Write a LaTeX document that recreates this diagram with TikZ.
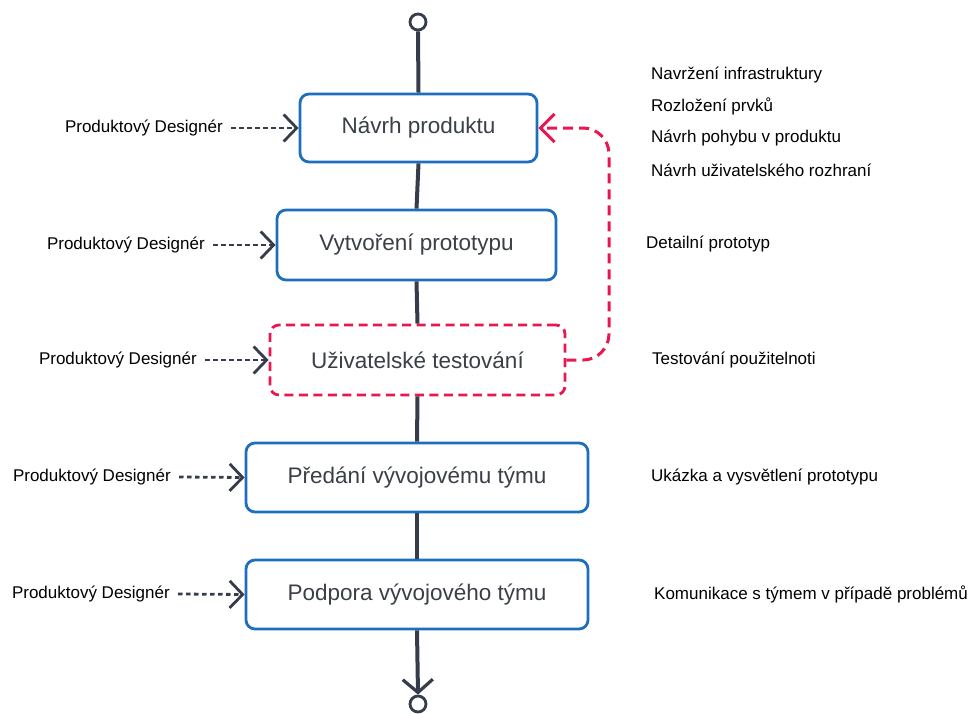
\documentclass[tikz,border=0pt]{standalone}
\usepackage{fontspec}
\setmainfont{Liberation Sans}
\usetikzlibrary{arrows.meta}
\definecolor{spine}{HTML}{353C4A}
\definecolor{stepblue}{HTML}{1E6EBE}
\definecolor{loopred}{HTML}{E8174F}
\definecolor{txt}{HTML}{3A3F48}
\begin{document}
\begin{tikzpicture}[x=1pt,y=-1pt,
  stepbox/.style={draw=stepblue,line width=2.8pt,rounded corners=9pt,fill=white,
    text=txt,font=\fontsize{22.5}{26}\selectfont,inner sep=0pt},
  testbox/.style={stepbox,draw=loopred,dash pattern=on 9pt off 5.5pt},
  role/.style={font=\fontsize{17}{20}\selectfont,text=black,anchor=east,inner sep=0pt},
  note/.style={font=\fontsize{17}{20}\selectfont,text=black,anchor=west,inner sep=0pt},
  chevron/.tip={Straight Barb[length=13pt,width=27pt,line width=2.8pt]},
  feed/.style={line width=2.8pt,draw=spine,dash pattern=on 4.5pt off 3.5pt,-chevron},
  flow/.style={draw=spine,line width=4pt},
  marker/.style={circle,draw=spine,line width=2.8pt,minimum size=16pt,inner sep=0pt,fill=white}
]
\useasboundingbox (0,0) rectangle (974,713);

% steps
\node[stepbox,minimum width=237pt,minimum height=68pt] (s1) at (418.5,128) {Návrh produktu};
\node[stepbox,minimum width=279pt,minimum height=70pt] (s2) at (416.5,245) {Vytvoření prototypu};
\node[testbox,minimum width=295pt,minimum height=70pt] (s3) at (417.5,360) {Uživatelské testování};
\node[stepbox,minimum width=342pt,minimum height=69pt] (s4) at (417,477.5) {Předání vývojovému týmu};
\node[stepbox,minimum width=342pt,minimum height=69pt] (s5) at (417,594.5) {Podpora vývojového týmu};

% start and end markers
\node[marker] (start) at (418,22) {};
\node[marker] (end) at (418,704) {};

% main flow
\draw[flow] (start.south) -- (s1.north);
\draw[flow] (s1.south) -- (s2.north);
\draw[flow] (s2.south) -- (s3.north);
\draw[flow] (s3.south) -- (s4.north);
\draw[flow] (s4.south) -- (s5.north);
\draw[flow,-{Straight Barb[length=13pt,width=30pt,line width=3.2pt]}] (s5.south) -- (end.north);

% roles
\node[role] (r1) at (223,128) {Produktový Designér};
\node[role] (r2) at (205,245) {Produktový Designér};
\node[role] (r3) at (197,360) {Produktový Designér};
\node[role] (r4) at (171,477) {Produktový Designér};
\node[role] (r5) at (170,594) {Produktový Designér};
\draw[feed] ([xshift=8pt]r1.east) -- (s1.west);
\draw[feed] ([xshift=8pt]r2.east) -- (s2.west);
\draw[feed] ([xshift=8pt]r3.east) -- (s3.west);
\draw[feed] ([xshift=8pt]r4.east) -- (s4.west);
\draw[feed] ([xshift=8pt]r5.east) -- (s5.west);

% iteration back from testing to design
\draw[draw=loopred,line width=3pt,dash pattern=on 10pt off 6pt,rounded corners=26pt,
  -{Straight Barb[length=14pt,width=28pt,line width=3pt]}]
  (s3.east) -- (609,360) -- (609,128) -- (s1.east);

% outputs
\node[note] (n1) at (651,75) {Navržení infrastruktury};
\node[note] (n2) at (651,106) {Rozložení prvků};
\node[note] (n3) at (651,138) {Návrh pohybu v produktu};
\node[note] (n4) at (651,170) {Návrh uživatelského rozhraní};
\node[note] (n5) at (646,244) {Detailní prototyp};
\node[note] (n6) at (652,360) {Testování použitelnoti};
\node[note] (n7) at (651,477) {Ukázka a vysvětlení prototypu};
\node[note] (n8) at (654,594) {Komunikace s týmem v případě problémů};
\end{tikzpicture}
\end{document}
